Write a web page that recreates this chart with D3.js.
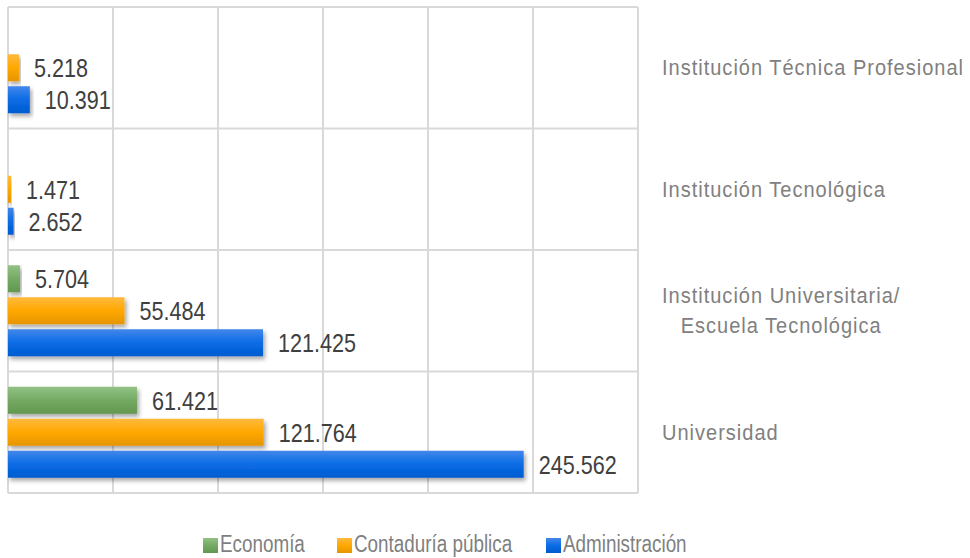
<!DOCTYPE html>
<html>
<head>
<meta charset="utf-8">
<script src="https://cdn.jsdelivr.net/npm/d3@7"></script>
<style>
  body { margin: 0; background: #fff; }
  svg { display: block; }
  text { font-family: "Liberation Sans", Arial, sans-serif; }
</style>
</head>
<body>
<div id="chart"></div>
<script>
let width = 970;
let height = 558;
let margin = ({top: 7, right: 332, bottom: 65, left: 8});

// Categories, top to bottom (each label may span several lines)
let categories = ["Institución Técnica Profesional", "Institución Tecnológica", "Institución Universitaria/\nEscuela Tecnológica", "Universidad"];
let series = ["Economía", "Contaduría pública", "Administración"];

// values per category, one array per series (null = no bar)
let economia = [null, null, 5704, 61421];
let contaduria = [5218, 1471, 55484, 121764];
let administracion = [10391, 2652, 121425, 245562];

let xTicks = [0, 50000, 100000, 150000, 200000, 250000, 300000];

let colors = {
    "Economía": ["#92c285", "#74aa63", "#62974f"],
    "Contaduría pública": ["#ffb93d", "#ffa800", "#e59500"],
    "Administración": ["#4387ea", "#0a6ce6", "#005bcf"]
};

let data = categories.map(function(c, i) {
    return {
        cat: c,
        values: [
            {key: series[0], value: economia[i]},
            {key: series[1], value: contaduria[i]},
            {key: series[2], value: administracion[i]}
        ]
    };
});

let locale = d3.formatLocale({decimal: ",", thousands: ".", grouping: [3], currency: ["", ""]});
let fmt = locale.format(",d");

// no narrow font installed: squeeze text with a horizontal scale
function squeezed(parent, x, y, f) {
    return parent.append("g")
        .attr("transform", "translate(" + x + "," + y + ") scale(" + f + ",1)")
        .append("text");
}

let svg = d3.select("#chart")
    .append("svg")
    .attr("width", width)
    .attr("height", height);

let defs = svg.append("defs");

// gradient per series
series.forEach(function(s, i) {
    let g = defs.append("linearGradient")
        .attr("id", "grad" + i)
        .attr("x1", 0).attr("y1", 0).attr("x2", 0).attr("y2", 1);
    g.append("stop").attr("offset", "0%").attr("stop-color", colors[s][0]);
    g.append("stop").attr("offset", "50%").attr("stop-color", colors[s][1]);
    g.append("stop").attr("offset", "100%").attr("stop-color", colors[s][2]);
});

let shadow = defs.append("filter")
    .attr("id", "shadow")
    .attr("x", "-5%").attr("y", "-20%").attr("width", "120%").attr("height", "160%");
shadow.append("feDropShadow")
    .attr("dx", 2).attr("dy", 3).attr("stdDeviation", 2)
    .attr("flood-color", "#000").attr("flood-opacity", 0.35);

let xScale = d3.scaleLinear()
    .domain([0, 300000])
    .range([margin.left, width - margin.right]);

let yScale = d3.scaleBand()
    .domain(categories)
    .range([margin.top, height - margin.bottom])
    .padding(0);

let ySub = d3.scaleBand()
    .domain(series)
    .range([0, yScale.bandwidth()])
    .paddingInner(0.156)
    .paddingOuter(0.477);

// grid: vertical lines from x ticks
svg.append("g")
    .attr("class", "grid")
    .selectAll("line")
    .data(xTicks)
    .enter()
    .append("line")
    .attr("x1", function(d) { return xScale(d); })
    .attr("x2", function(d) { return xScale(d); })
    .attr("y1", margin.top)
    .attr("y2", height - margin.bottom)
    .attr("stroke", "#d9d9d9")
    .attr("stroke-width", 2);

// horizontal separators between categories
let hLines = categories.map(function(c) { return yScale(c); }).concat([height - margin.bottom]);
svg.append("g")
    .selectAll("line")
    .data(hLines)
    .enter()
    .append("line")
    .attr("x1", margin.left)
    .attr("x2", width - margin.right)
    .attr("y1", function(d) { return d; })
    .attr("y2", function(d) { return d; })
    .attr("stroke", "#d9d9d9")
    .attr("stroke-width", 2);

let groups = svg.selectAll(".cat")
    .data(data)
    .enter()
    .append("g")
    .attr("class", "cat")
    .attr("transform", function(d) { return "translate(0," + yScale(d.cat) + ")"; });

groups.each(function(d) {
    let g = d3.select(this);
    d.values.filter(function(v) { return v.value != null; }).forEach(function(v) {
        g.append("rect")
            .attr("class", "bar")
            .attr("x", xScale(0))
            .attr("y", ySub(v.key))
            .attr("width", xScale(v.value) - xScale(0))
            .attr("height", ySub.bandwidth())
            .attr("fill", "url(#grad" + series.indexOf(v.key) + ")")
            .attr("filter", "url(#shadow)");

        squeezed(g, xScale(v.value) + 15, ySub(v.key) + ySub.bandwidth() / 2, 0.83)
            .attr("dy", "0.36em")
            .attr("font-size", 26)
            .attr("fill", "#404040")
            .text(fmt(v.value));
    });
});

// category labels on the right, lines centred within the block
let labelX = 662;
categories.forEach(function(c) {
    let lines = c.split("\n");
    let cy = yScale(c) + yScale.bandwidth() / 2;
    let t = squeezed(svg, labelX, cy, 0.91)
        .attr("font-size", 22)
        .attr("letter-spacing", 1.1)
        .attr("fill", "#808080");
    let lh = 30;
    lines.forEach(function(l, i) {
        t.append("tspan")
            .attr("y", (i - (lines.length - 1) / 2) * lh)
            .attr("dy", "0.35em")
            .text(l);
    });
    let widths = [];
    t.selectAll("tspan").each(function() { widths.push(this.getComputedTextLength()); });
    let maxW = d3.max(widths);
    t.attr("text-anchor", "middle");
    t.selectAll("tspan").attr("x", maxW / 2);
});

// legend
let legendX = [203, 337, 546];
let legend = svg.append("g").attr("class", "legend");
series.forEach(function(s, i) {
    legend.append("rect")
        .attr("x", legendX[i])
        .attr("y", 538)
        .attr("width", 15)
        .attr("height", 15)
        .attr("fill", "url(#grad" + i + ")");
    squeezed(legend, legendX[i] + 17, 552, 0.82)
        .attr("font-size", 23)
        .attr("fill", "#7f7f7f")
        .text(s);
});
</script>
</body>
</html>
